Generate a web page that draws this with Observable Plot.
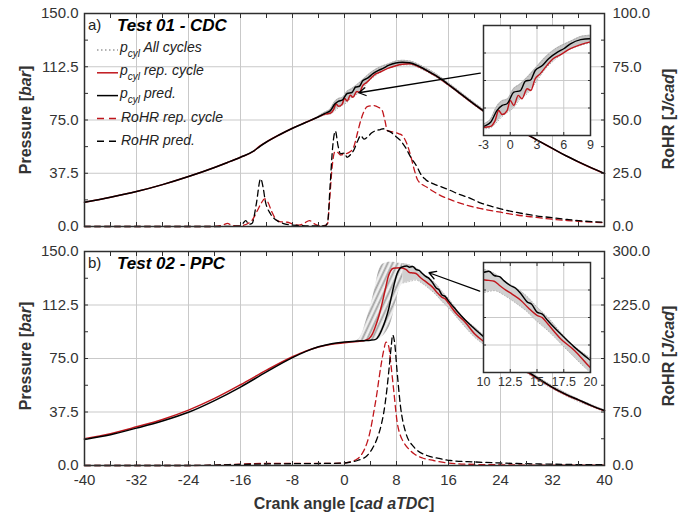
<!DOCTYPE html>
<html><head><meta charset="utf-8">
<script src="https://cdn.jsdelivr.net/npm/d3@7"></script>
<script src="https://cdn.jsdelivr.net/npm/@observablehq/plot@0.6"></script>
<style>
body{margin:0;background:#fff;font-family:"Liberation Sans",Arial,sans-serif;}
#wrap{position:relative;width:700px;height:518px;overflow:hidden;background:#fff;}
#wrap > *{position:absolute;}
</style></head><body>
<svg width="0" height="0" style="position:absolute">
<defs>
<pattern id="hatch" patternUnits="userSpaceOnUse" width="4.5" height="4.5" patternTransform="rotate(25)">
<rect width="4.5" height="4.5" fill="#f0f0f0"/>
<line x1="1.2" y1="0" x2="1.2" y2="4.5" stroke="#a3a3a3" stroke-width="1.8"/>
</pattern>
</defs></svg>
<div id="wrap"></div>
<script>
// ---------- axis ticks ----------
const xMajor = [-40,-32,-24,-16,-8,0,8,16,24,32,40];
const xMinor = [-36,-28,-20,-12,-4,4,12,20,28,36];
const pTicks = [0,37.5,75,112.5,150];
const pMinor = [18.75,56.25,93.75,131.25];
const rohrTicksTop = [0,25,50,75,100];
const rohrTicksBot = [0,75,150,225,300];
const insetTopXTicks = [-3,0,3,6,9];
const insetBotXTicks = [10,12.5,15,17.5,20];
const insetTopYDomain = [76,121];
const insetBotYDomain = [90,143.75];

// ---------- panel a) Test 01 - CDC ----------
const topPredX = [-40,-36,-32,-28,-24,-20,-18,-16,-14,-13,-12,-10,-8,-6,-4,-3,-2.2,-1.5,-0.9,-0.35,0.4,1.15,1.7,2.3,2.8,3.6,4.3,5.3,6,6.75,7.9,8.9,10,11,12,13,14,15,16,17,18,20,22,24,26,28,30,32,34,36,38,40];
const topPredP = [17.1,20.6,24.6,29.5,35.2,41.6,45.1,48.8,53,56.5,59.5,64.6,69.2,73.2,77.3,79.7,81.4,86.2,88.3,89,93.7,94.4,98.2,98.8,102.6,104.6,107.4,110.1,111.5,113.5,115.2,115.6,115.3,113.8,111.6,109,106.5,103.4,100,96.6,93,86,79.5,74,69.5,65,60,55,50,45.5,41.3,37.3];
const topRepX = [-40,-36,-32,-28,-24,-20,-18,-16,-14,-13,-12,-10,-8,-6,-4,-3,-2.2,-1.7,-1.3,-0.9,-0.35,0,0.4,0.9,1.3,1.9,2.3,2.8,3.35,4.1,4.8,5.5,6.75,7.9,8.9,10,11,12,13,14,15,16,17,18,20,22,24,26,28,30,32,34,36,38,40];
const topRepP = [17.1,20.6,24.6,29.5,35.2,41.6,45.1,48.8,53,56.8,59.6,64.6,69.2,73.2,77.2,79.2,79.7,82.1,86.2,84.6,86.2,90.3,88.3,92.4,91,95.1,94.4,99.2,101.2,104.6,107.4,108.8,111.5,113.2,114.2,114.6,113.4,111.3,108.7,106.2,103.1,99.8,96.4,92.8,85.8,79.4,73.9,69.4,64.9,59.9,54.9,49.9,45.4,41.2,37.2];
const bandTopX = [-4,-3,-2.2,-1.5,-1,-0.3,0.4,1,2,3,4,5,6,7,8,9,10,12,14,16,18,20,22,24,26,28];
const bandTopLo = [77,78.6,79.2,81.5,83.5,85.5,87.5,90.5,93.5,98.5,103.5,107,109.8,111.8,113,113.8,113.8,110.5,105.5,99.2,92.2,85.2,78.8,73.4,68.9,64.5];
const bandTopHi = [77.8,80.6,82.8,88,90,91,95.3,96.8,100.2,104.3,108.3,111.3,113.3,115,116.6,117,116.6,112.9,107.8,101.2,94.2,87.2,80.6,74.9,70.2,65.6];
const topRohrRepX = [-40,-30,-20,-18.6,-18,-17.4,-16.5,-15.5,-14.8,-14.2,-13.4,-12.8,-12.3,-11.8,-11.2,-10.6,-9.8,-8.8,-8,-7,-6.2,-5.4,-4.6,-3.8,-3,-2.6,-2.3,-1.9,-1.5,-1.1,-0.6,0,0.8,1.4,2,2.5,3,3.5,4.5,5.2,5.8,6.2,6.6,7.6,8.4,8.9,9.6,10.2,10.7,11.3,12.7,13.7,15.3,17,18.9,21,24,26.5,29.1,32,34.3,37,40];
const topRohrRepY = [0,0,0,0.8,1.5,0.6,0.3,0.6,1.5,3,7.5,11,13,11.5,7,3.6,2.2,2,1.2,0.6,1.5,2.8,1.2,0.3,0.5,1.4,12,28,35,34.9,33.5,34,35,37.2,44,49.8,54,56.3,56.8,56,54.5,50,45,44.3,43.5,42.7,38.8,33,27,21.6,18.4,16.4,13.8,11.8,9.9,8.4,6.7,5.4,4.4,3.4,2.8,2.2,1.8];
const topRohrPredX = [-40,-20,-16,-15.6,-15.2,-14.7,-14.2,-13.6,-12.9,-12.5,-12.2,-11.4,-10.4,-9.5,-8.5,-7,-5,-3,-2.6,-2.2,-1.8,-1.4,-1,-0.6,0,0.4,1,1.4,2,2.5,3,3.5,4.2,4.8,5.5,6,6.6,7.1,8,8.6,9.4,10.2,11.2,11.7,12.5,13.7,15,16.3,17.5,18.9,21,24,26.5,29.1,32,34.3,37,40];
const topRohrPredY = [0,0,0.2,1.5,2.8,1,1.5,10,22.4,18,12.2,6,2.8,1.5,0.8,0.5,0.3,0.3,2,20,38,44.8,38,34.1,34.5,32.5,34,35.7,40,42.7,41,41.9,44,45,45.5,45.9,45,44.3,42,40.4,37,32.5,27.8,24.7,22,20,18.5,16.9,15.3,13.8,11,8.3,6.6,5.2,4.1,3.3,2.5,2];
const arrowTopFrom = [20.9, 108];
const arrowTopTo = [2.2, 94.2];

// ---------- panel b) Test 02 - PPC ----------
const botPredX = [-40,-36,-32,-28,-24,-20,-16,-12,-8,-6,-4,-2,0,2,3,4,4.8,5.3,5.8,6.3,6.8,7.2,7.6,8.1,8.5,8.9,9.6,10,10.5,11,11.5,11.9,12.5,13,13.5,14.1,14.5,15,15.5,16,17.2,18.5,20,22,24,26,28,30,32,34,36,38,40];
const botPredP = [18.3,21.6,26.2,31.2,37.3,45.5,55,65.6,75.6,79.8,83.2,85.4,86.5,87.2,87.5,87.8,88.4,91,95.8,102,109.8,118,126.2,134.5,138,139.2,139.8,139,139.5,137.4,136.8,134.9,132.5,131.2,128.5,124.4,123.4,119.5,118.5,115.4,108.9,102.4,95.9,88,80.5,73.3,66.5,60.5,54.8,50,46,42,38.5];
const botRepX = [-40,-36,-32,-28,-24,-20,-16,-12,-8,-6,-4,-2,0,2,3,3.8,4.3,4.8,5.3,5.7,6.05,6.4,6.7,7.1,7.5,8,8.6,9.5,10,10.5,11,11.5,11.9,12.7,13.5,14.2,15,15.5,16,17.2,18.5,20,22,24,26,28,30,32,34,36,38,40];
const botRepP = [18.8,22.3,27.1,32.3,38.8,47,56.6,66.8,76.2,80.2,83.1,85,86,87,87.5,89,92.3,98,105,112,119,126,132,136.5,138.3,138.5,138.6,137.3,135.3,135,134.6,132.5,130.9,128.2,125.2,121.5,117.9,116.8,113.8,106.5,100.8,92.3,85,78,71.5,65.8,60,54.5,49.8,45.8,41.8,38.3];
// all-cycle envelope: combustion rise (hatched) and expansion (dotted)
const bandBotRiseX = [1.5,2,2.7,3.5,4.25,5,5.3,6,6.5,7,7.5,8,8.5,9];
const bandBotRiseLo = [86.6,86.9,87.2,87.4,87.6,88.2,88.6,91,94,98,106,116,124,128];
const bandBotRiseHi = [87.4,87.8,92.3,104,115.7,131,136.7,141.4,142.2,142.5,142.4,142,141.7,141.5];
const bandBotExpX = [9,10,11,12,13,14,15,16,18,20,22,24,27,30,34,40];
const bandBotExpLo = [128,129,130,127.5,124,120,115,110.5,100,90,83,76.5,68,59,49,37.8];
const bandBotExpHi = [141.5,140.5,138.5,134.5,131.5,127.5,122,117,105,97,89,81.5,71.5,61.5,51,39];
const botRohrRepX = [-40,-24,-20,-16,-12,-8,-4,-2,0,1,2,2.8,3.5,4,4.5,5,5.3,5.7,6,6.4,6.8,7.1,7.4,7.6,8.1,8.6,9.1,10,10.7,12,13.7,16,20,24,30,40];
const botRohrRepY = [0,0,0.5,2,3,3,3,3,3.5,5.5,9.3,18,32.7,50,74.7,102,121.5,145,160,173,167,145,120,102.8,60.7,42,32.7,22,16.4,10.5,7,3.5,1.5,1,0.5,0.5];
const botRohrPredX = [-40,-24,-20,-16,-8,-2,0,0.9,2,3.5,4.3,5,5.6,6.05,6.5,6.8,7.2,7.4,7.7,8.1,8.6,9.4,10.7,12.7,14.5,16.3,20,24,28,32,36,40];
const botRohrPredY = [0,0,0.5,1.5,2.5,3,3.5,4.7,7,14,24,37.4,55,74.7,105,130.8,168,183,172.9,130.8,84,46.7,25.7,14,10,7,5,3.5,2.5,1.8,1.3,1];
const arrowBotFrom = [20.8, 122.2];
const arrowBotTo = [13.0, 135.1];

// ---------- helpers ----------
const RED = "#c0161c", GRID = "#c9c9c9", AX = "#2e2e2e", TXT = "#333";
const FONT = "'Liberation Sans', Arial, sans-serif";
const rows = (xs, ys) => xs.map((x, i) => ({x, y: ys[i]}));
const band = (xs, lo, hi) => xs.map((x, i) => ({x, lo: lo[i], hi: hi[i]}));
const fmt1 = d3.format(".1f");
const blank = () => "";

function bandMarks(bands, clip) {
  const out = [];
  for (const b of bands) {
    out.push(Plot.areaY(b.data, {x: "x", y1: "lo", y2: "hi", fill: b.fill, curve: "monotone-x", clip}));
    if (b.edge) {
      out.push(Plot.line(b.data, {x: "x", y: "lo", stroke: b.edge, strokeWidth: 1, strokeDasharray: "1,2", curve: "monotone-x", clip}));
      out.push(Plot.line(b.data, {x: "x", y: "hi", stroke: b.edge, strokeWidth: 1, strokeDasharray: "1,2", curve: "monotone-x", clip}));
    }
  }
  return out;
}

function panel(o) {
  const f = o.factor;
  const marks = [
    Plot.gridX(xMajor, {stroke: GRID, strokeOpacity: 1, strokeWidth: 1}),
    Plot.gridY(pTicks.slice(1, -1), {stroke: GRID, strokeOpacity: 1, strokeWidth: 1}),
    ...bandMarks(o.bands, false),
    Plot.line(o.rep, {x: "x", y: "y", stroke: RED, strokeWidth: 1.5, curve: "monotone-x"}),
    Plot.line(o.pred, {x: "x", y: "y", stroke: "#000", strokeWidth: 1.5, curve: "monotone-x"}),
    Plot.line(o.rohrRep, {x: "x", y: d => d.y * f, stroke: RED, strokeWidth: 1.3, strokeDasharray: "6,4", curve: "monotone-x"}),
    Plot.line(o.rohrPred, {x: "x", y: d => d.y * f, stroke: "#000", strokeWidth: 1.3, strokeDasharray: "6,4", curve: "monotone-x"}),
    Plot.arrow([o.arrow], {x1: d => d.from[0], y1: d => d.from[1], x2: d => d.to[0], y2: d => d.to[1], stroke: "#000", strokeWidth: 1.3, headLength: 9}),
    Plot.frame({stroke: AX, strokeWidth: 1.5}),
    Plot.axisX(xMajor, {anchor: "bottom", tickSize: 4, dy: -4, tickPadding: 9, tickFormat: o.xLabels ? (d => String(d)) : blank, label: null, stroke: AX}),
    Plot.axisX(xMinor, {anchor: "bottom", tickSize: 4, dy: -4, tickFormat: blank, label: null, stroke: AX}),
    Plot.axisX(xMajor, {anchor: "top", tickSize: 4, dy: 4, tickFormat: blank, label: null, stroke: AX}),
    Plot.axisX(xMinor, {anchor: "top", tickSize: 4, dy: 4, tickFormat: blank, label: null, stroke: AX}),
    Plot.axisY(pTicks, {anchor: "left", tickSize: 4, dx: 4, tickPadding: 6, tickFormat: fmt1, label: null, stroke: AX}),
    Plot.axisY(pMinor, {anchor: "left", tickSize: 4, dx: 4, tickFormat: blank, label: null, stroke: AX}),
    Plot.axisY(o.rTicks.map(v => v * f), {anchor: "right", tickSize: 4, dx: -4, tickPadding: 8, tickFormat: v => fmt1(v / f), label: null, stroke: AX}),
    Plot.axisY(pMinor, {anchor: "right", tickSize: 4, dx: -4, tickFormat: blank, label: null, stroke: AX})
  ];
  return Plot.plot({
    width: 700, height: o.height,
    marginLeft: 84, marginRight: 96, marginTop: o.mt, marginBottom: o.mb,
    x: {domain: [-40, 40], label: null},
    y: {domain: [0, 150], label: null},
    style: {fontFamily: FONT, fontSize: "15px", color: TXT, background: "transparent", overflow: "visible"},
    marks
  });
}

function inset(o) {
  const [lo, hi] = o.yDomain;
  const yT = d3.range(1, 4).map(i => lo + i * (hi - lo) / 4);
  return Plot.plot({
    width: 127, height: 134, marginLeft: 10, marginRight: 10, marginTop: 2, marginBottom: 22,
    x: {domain: o.xDomain, label: null},
    y: {domain: o.yDomain, label: null},
    style: {fontFamily: FONT, fontSize: "12.5px", color: TXT, background: "transparent", overflow: "visible"},
    marks: [
      Plot.frame({fill: "white", stroke: "none"}),
      Plot.gridX(o.xTicks, {stroke: GRID, strokeOpacity: 1}),
      Plot.gridY(yT, {stroke: GRID, strokeOpacity: 1}),
      ...bandMarks(o.bands, true),
      Plot.line(o.rep, {x: "x", y: "y", stroke: RED, strokeWidth: 1.4, curve: "monotone-x", clip: true}),
      Plot.line(o.pred, {x: "x", y: "y", stroke: "#000", strokeWidth: 1.4, curve: "monotone-x", clip: true}),
      Plot.frame({stroke: AX, strokeWidth: 1.5}),
      Plot.axisX(o.xTicks, {anchor: "bottom", tickSize: 3, dy: -3, tickPadding: 5, tickFormat: d => String(d), label: null, stroke: AX}),
      Plot.axisX(o.xTicks, {anchor: "top", tickSize: 3, dy: 3, tickFormat: blank, label: null, stroke: AX}),
      Plot.axisY(yT, {anchor: "left", tickSize: 3, dx: 3, tickFormat: blank, label: null, stroke: AX}),
      Plot.axisY(yT, {anchor: "right", tickSize: 3, dx: -3, tickFormat: blank, label: null, stroke: AX})
    ]
  });
}

const wrap = document.getElementById("wrap");
const place = (el, left, top) => { el.style.left = left + "px"; el.style.top = top + "px"; wrap.appendChild(el); };

const topData = {
  pred: rows(topPredX, topPredP), rep: rows(topRepX, topRepP),
  bands: [{data: band(bandTopX, bandTopLo, bandTopHi), fill: "#c6c6c6", edge: "#a8a8a8"}],
  rohrRep: rows(topRohrRepX, topRohrRepY), rohrPred: rows(topRohrPredX, topRohrPredY)
};
const botData = {
  pred: rows(botPredX, botPredP), rep: rows(botRepX, botRepP),
  bands: [
    {data: band(bandBotRiseX, bandBotRiseLo, bandBotRiseHi), fill: "url(#hatch)", edge: null},
    {data: band(bandBotExpX, bandBotExpLo, bandBotExpHi), fill: "#d0d0d0", edge: "#b4b4b4"}
  ],
  rohrRep: rows(botRohrRepX, botRohrRepY), rohrPred: rows(botRohrPredX, botRohrPredY)
};

place(panel({...topData, factor: 150 / 100, rTicks: rohrTicksTop,
  arrow: {from: arrowTopFrom, to: arrowTopTo}, xLabels: false, height: 240, mt: 13, mb: 14}), 0, 0);
place(panel({...botData, factor: 150 / 300, rTicks: rohrTicksBot,
  arrow: {from: arrowBotFrom, to: arrowBotTo}, xLabels: true, height: 278, mt: 11, mb: 53}), 0, 240);
place(inset({...topData, xDomain: [-3, 9], yDomain: insetTopYDomain, xTicks: insetTopXTicks}), 473, 23);
place(inset({...botData, xDomain: [10, 20], yDomain: insetBotYDomain, xTicks: insetBotXTicks}), 473, 260);

// ---------- text: titles, axis labels, legend ----------
const legendRows = [
  {p: true, text: "All cycles", stroke: "#9a9a9a", dash: "1.5,2.5"},
  {p: true, text: "rep. cycle", stroke: RED, dash: null},
  {p: true, text: "pred.", stroke: "#000", dash: null},
  {p: false, text: "RoHR rep. cycle", stroke: RED, dash: "7,5"},
  {p: false, text: "RoHR pred.", stroke: "#000", dash: "7,5"}
];
let leg = "";
legendRows.forEach((r, i) => {
  const y = 50 + i * 22.8;
  leg += `<line x1="97" x2="118" y1="${y}" y2="${y}" stroke="${r.stroke}" stroke-width="1.5" ${r.dash ? `stroke-dasharray="${r.dash}"` : ""}/>`;
  if (r.p) {
    leg += `<text x="120" y="${y + 2}" font-size="14" font-style="italic" fill="#222">p<tspan font-size="10" dy="5">cyl</tspan><tspan font-size="14" dy="-5"> ${r.text}</tspan></text>`;
  } else {
    leg += `<text x="121" y="${y + 4}" font-size="14" font-style="italic" fill="#222">${r.text}</text>`;
  }
});

const ann = document.createElementNS("http://www.w3.org/2000/svg", "svg");
ann.setAttribute("width", 700); ann.setAttribute("height", 518);
ann.style.pointerEvents = "none";
ann.innerHTML = `
<g font-family="${FONT}">
<text x="88" y="30" font-size="15" fill="#222">a)</text>
<text x="117" y="31" font-size="17" font-weight="bold" font-style="italic" fill="#000">Test 01 - CDC</text>
<text x="88" y="268" font-size="15" fill="#222">b)</text>
<text x="117" y="269" font-size="17" font-weight="bold" font-style="italic" fill="#000">Test 02 - PPC</text>
<text transform="translate(25,120) rotate(-90)" text-anchor="middle" dominant-baseline="central" font-size="16" font-weight="bold" fill="${TXT}">Pressure [<tspan font-style="italic">bar</tspan>]</text>
<text transform="translate(25,356) rotate(-90)" text-anchor="middle" dominant-baseline="central" font-size="16" font-weight="bold" fill="${TXT}">Pressure [<tspan font-style="italic">bar</tspan>]</text>
<text transform="translate(668,119) rotate(-90)" text-anchor="middle" dominant-baseline="central" font-size="16" font-weight="bold" fill="${TXT}">RoHR [<tspan font-style="italic">J/cad</tspan>]</text>
<text transform="translate(668,356) rotate(-90)" text-anchor="middle" dominant-baseline="central" font-size="16" font-weight="bold" fill="${TXT}">RoHR [<tspan font-style="italic">J/cad</tspan>]</text>
<text x="344" y="509" text-anchor="middle" font-size="16" font-weight="bold" fill="${TXT}">Crank angle [<tspan font-style="italic">cad aTDC</tspan>]</text>
${leg}
</g>`;
place(ann, 0, 0);
</script></body></html>
